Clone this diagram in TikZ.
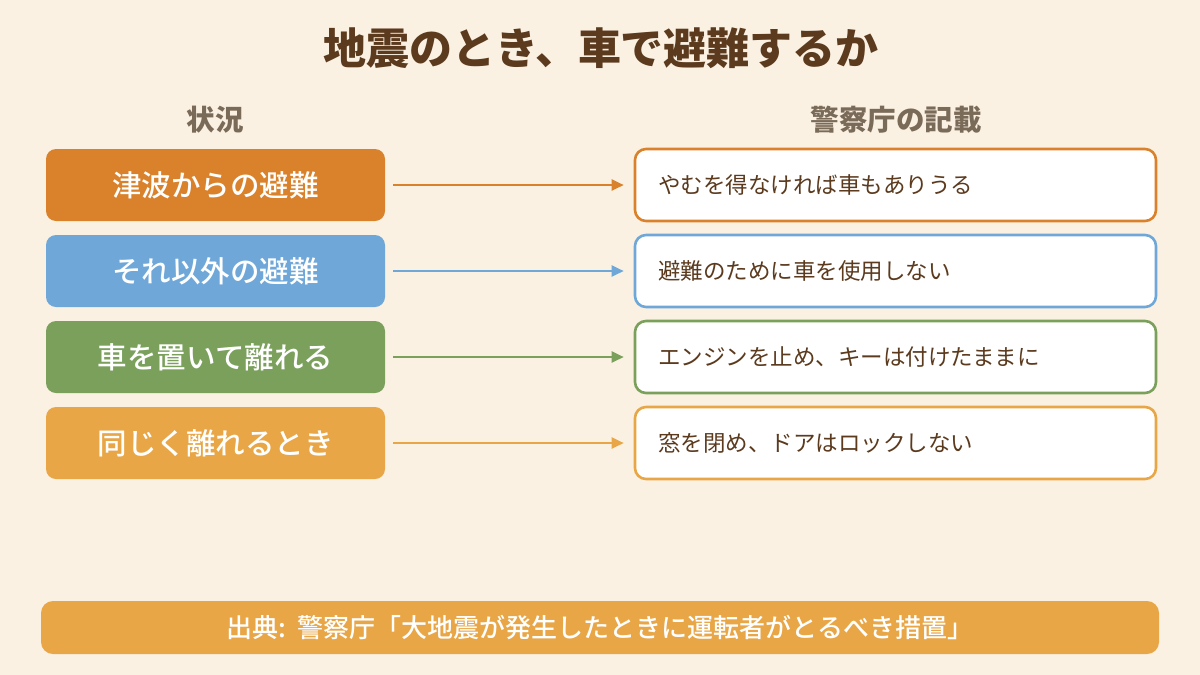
\documentclass[tikz,border=0pt]{standalone}
\usepackage{fontspec}
\setmainfont{Noto Sans CJK JP}
\newfontfamily\medfont{Noto Sans CJK JP Medium}
\usetikzlibrary{arrows.meta}
\definecolor{bg}{HTML}{FAF1E3}
\definecolor{titlec}{HTML}{5B3A1E}
\definecolor{headc}{HTML}{7A6A58}
\definecolor{txtc}{HTML}{5B3A1E}
\definecolor{c1}{HTML}{D9822B}
\definecolor{c2}{HTML}{6FA8D8}
\definecolor{c3}{HTML}{7AA05C}
\definecolor{c4}{HTML}{E8A646}
\tikzset{
  sitbox/.style={fill=#1, draw=none, rounded corners=10pt, minimum width=339pt, minimum height=72pt, text=white, font=\medfont\fontsize{29.5}{32}\selectfont, inner sep=0pt},
  notebox/.style={fill=white, draw=#1, line width=2.6pt, rounded corners=11pt, minimum width=521pt, minimum height=72pt, text width=475pt, inner xsep=23pt, align=left, text=txtc, font=\fontsize{22.5}{26}\selectfont},
  conn/.style={draw=#1, line width=2.4pt, -{Triangle[length=12pt,width=11pt]}, shorten <=8pt, shorten >=10pt},
  head/.style={text=headc, font=\bfseries\fontsize{28.5}{32}\selectfont}
}
\begin{document}
\begin{tikzpicture}[x=1pt,y=-1pt]
\fill[bg] (0,0) rectangle (1200,675);
\useasboundingbox (0,0) rectangle (1200,675);
\node[text=titlec, font=\bfseries\fontsize{43}{48}\selectfont] (title) at (601,48) {地震のとき、車で避難するか};
\node[head] (h1) at (215,120) {状況};
\node[head] (h2) at (896,120) {警察庁の記載};
\node[sitbox=c1] (l1) at (215.5,185) {津波からの避難};
\node[sitbox=c2] (l2) at (215.5,271) {それ以外の避難};
\node[sitbox=c3] (l3) at (215.5,357) {車を置いて離れる};
\node[sitbox=c4] (l4) at (215.5,443) {同じく離れるとき};
\node[notebox=c1] (r1) at (895.5,185) {やむを得なければ車もありうる};
\node[notebox=c2] (r2) at (895.5,271) {避難のために車を使用しない};
\node[notebox=c3] (r3) at (895.5,357) {エンジンを止め、キーは付けたままに};
\node[notebox=c4] (r4) at (895.5,443) {窓を閉め、ドアはロックしない};
\draw[conn=c1] (l1.east) -- (r1.west);
\draw[conn=c2] (l2.east) -- (r2.west);
\draw[conn=c3] (l3.east) -- (r3.west);
\draw[conn=c4] (l4.east) -- (r4.west);
\node[fill=c4, rounded corners=12pt, minimum width=1118pt, minimum height=53pt, text=white, font=\medfont\fontsize{26}{30}\selectfont, inner sep=0pt] (src) at (600,627.5) {出典:\ \ 警察庁「大地震が発生したときに運転者がとるべき措置」};
\end{tikzpicture}
\end{document}
